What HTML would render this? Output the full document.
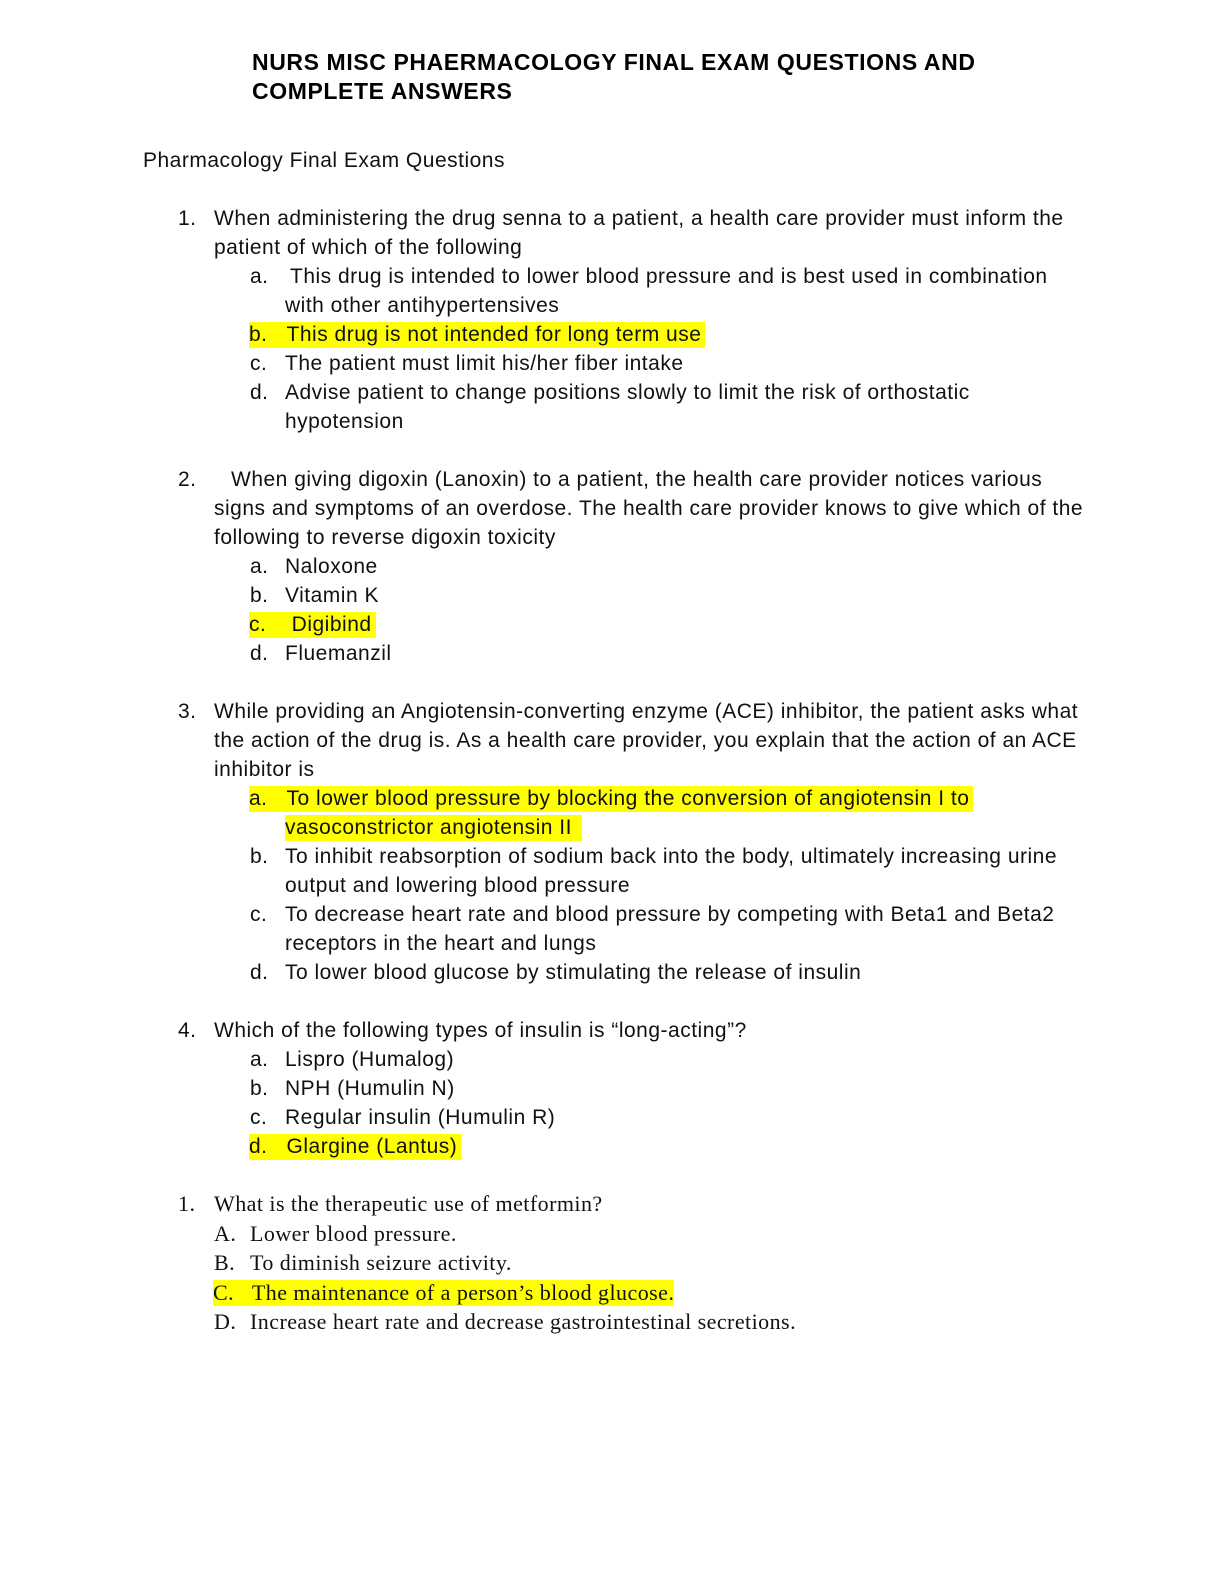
<!DOCTYPE html>
<html><head><meta charset="utf-8"><style>
body{margin:0;background:#fff;}
.p{position:relative;width:1224px;height:1584px;overflow:hidden;}
.l{position:absolute;white-space:nowrap;font-family:"Liberation Sans",sans-serif;font-size:21px;letter-spacing:0.5px;line-height:26px;color:#111;}
.s{font-family:"Liberation Serif",serif;font-size:22px;letter-spacing:0.45px;}
.h{background:#ffff00;padding-right:4px;}
.t{font-weight:bold;font-size:23px;letter-spacing:0.6px;color:#000;}
</style></head><body><div class="p">
<div class="l t" style="left:252px;top:49px">NURS MISC PHAERMACOLOGY FINAL EXAM QUESTIONS AND</div>
<div class="l t" style="left:252px;top:78px">COMPLETE ANSWERS</div>
<div class="l" style="left:143px;top:148px">Pharmacology Final Exam Questions</div>

<div class="l" style="left:178px;top:206px">1.</div>
<div class="l" style="left:214px;top:206px">When administering the drug senna to a patient, a health care provider must inform the</div>
<div class="l" style="left:214px;top:235px">patient of which of the following</div>
<div class="l" style="left:250px;top:264px">a.</div>
<div class="l" style="left:290px;top:264px">This drug is intended to lower blood pressure and is best used in combination</div>
<div class="l" style="left:285px;top:293px">with other antihypertensives</div>
<div class="l h" style="left:249px;top:322px">b.&nbsp;&nbsp;&nbsp;This drug is not intended for long term use</div>
<div class="l" style="left:250px;top:351px">c.</div><div class="l" style="left:285px;top:351px">The patient must limit his/her fiber intake</div>
<div class="l" style="left:250px;top:380px">d.</div><div class="l" style="left:285px;top:380px">Advise patient to change positions slowly to limit the risk of orthostatic</div>
<div class="l" style="left:285px;top:409px">hypotension</div>

<div class="l" style="left:178px;top:467px">2.</div>
<div class="l" style="left:231px;top:467px">When giving digoxin (Lanoxin) to a patient, the health care provider notices various</div>
<div class="l" style="left:214px;top:496px">signs and symptoms of an overdose. The health care provider knows to give which of the</div>
<div class="l" style="left:214px;top:525px">following to reverse digoxin toxicity</div>
<div class="l" style="left:250px;top:554px">a.</div><div class="l" style="left:285px;top:554px">Naloxone</div>
<div class="l" style="left:250px;top:583px">b.</div><div class="l" style="left:285px;top:583px">Vitamin K</div>
<div class="l h" style="left:249px;top:612px">c.&nbsp;&nbsp;&nbsp;&nbsp;Digibind</div>
<div class="l" style="left:250px;top:641px">d.</div><div class="l" style="left:285px;top:641px">Fluemanzil</div>

<div class="l" style="left:178px;top:699px">3.</div>
<div class="l" style="left:214px;top:699px">While providing an Angiotensin-converting enzyme (ACE) inhibitor, the patient asks what</div>
<div class="l" style="left:214px;top:728px">the action of the drug is. As a health care provider, you explain that the action of an ACE</div>
<div class="l" style="left:214px;top:757px">inhibitor is</div>
<div class="l h" style="left:249px;top:786px">a.&nbsp;&nbsp;&nbsp;To lower blood pressure by blocking the conversion of angiotensin I to</div>
<div class="l h" style="left:285px;top:815px">vasoconstrictor angiotensin II&nbsp;</div>
<div class="l" style="left:250px;top:844px">b.</div><div class="l" style="left:285px;top:844px">To inhibit reabsorption of sodium back into the body, ultimately increasing urine</div>
<div class="l" style="left:285px;top:873px">output and lowering blood pressure</div>
<div class="l" style="left:250px;top:902px">c.</div><div class="l" style="left:285px;top:902px">To decrease heart rate and blood pressure by competing with Beta1 and Beta2</div>
<div class="l" style="left:285px;top:931px">receptors in the heart and lungs</div>
<div class="l" style="left:250px;top:960px">d.</div><div class="l" style="left:285px;top:960px">To lower blood glucose by stimulating the release of insulin</div>

<div class="l" style="left:178px;top:1018px">4.</div>
<div class="l" style="left:214px;top:1018px">Which of the following types of insulin is “long-acting”?</div>
<div class="l" style="left:250px;top:1047px">a.</div><div class="l" style="left:285px;top:1047px">Lispro (Humalog)</div>
<div class="l" style="left:250px;top:1076px">b.</div><div class="l" style="left:285px;top:1076px">NPH (Humulin N)</div>
<div class="l" style="left:250px;top:1105px">c.</div><div class="l" style="left:285px;top:1105px">Regular insulin (Humulin R)</div>
<div class="l h" style="left:249px;top:1134px">d.&nbsp;&nbsp;&nbsp;Glargine (Lantus)</div>

<div class="l s" style="left:178px;top:1191px">1.</div>
<div class="l s" style="left:214px;top:1191px">What is the therapeutic use of metformin?</div>
<div class="l s" style="left:214px;top:1221px">A.</div><div class="l s" style="left:250px;top:1221px">Lower blood pressure.</div>
<div class="l s" style="left:214px;top:1250px">B.</div><div class="l s" style="left:250px;top:1250px">To diminish seizure activity.</div>
<div class="l s h" style="left:213px;top:1280px;padding-right:0">C.&nbsp;&nbsp;&nbsp;The maintenance of a person’s blood glucose.</div>
<div class="l s" style="left:214px;top:1309px">D.</div><div class="l s" style="left:250px;top:1309px">Increase heart rate and decrease gastrointestinal secretions.</div>
</div></body></html>
